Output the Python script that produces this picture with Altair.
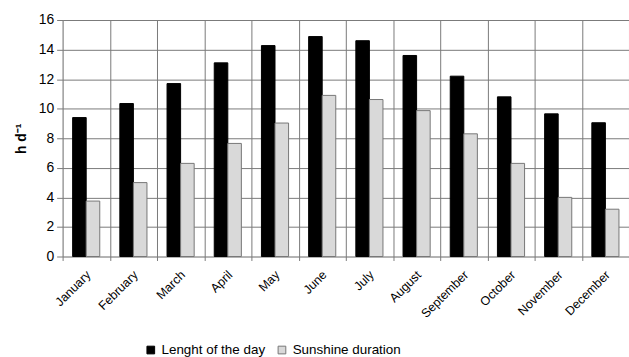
import altair as alt
import pandas as pd

months = ["January", "February", "March", "April", "May", "June", "July",
          "August", "September", "October", "November", "December"]
day_length = [9.4, 10.35, 11.7, 13.1, 14.27, 14.88, 14.6, 13.6, 12.2, 10.8, 9.65, 9.05]
sunshine = [3.75, 5.0, 6.3, 7.65, 9.03, 10.9, 10.62, 9.87, 8.3, 6.3, 4.0, 3.2]
series = ["Lenght of the day", "Sunshine duration"]

rows = []
for m, a, b in zip(months, day_length, sunshine):
    rows.append({"month": m, "series": series[0], "value": a})
    rows.append({"month": m, "series": series[1], "value": b})
df = pd.DataFrame(rows)

font = "Liberation Sans"

chart = alt.Chart(df).mark_bar(strokeWidth=1).encode(
    x=alt.X("month:N", sort=months, title=None,
            scale=alt.Scale(paddingInner=0, paddingOuter=0),
            axis=alt.Axis(labelAngle=-45, labelFontSize=12.5, labelFont=font,
                          labelColor="#000", tickBand="extent", grid=True,
                          gridColor="#7a7a7a", tickColor="#7a7a7a", tickSize=4,
                          domain=False, labelAlign="right", labelBaseline="middle",
                          labelPadding=12, labelOffset=2)),
    xOffset=alt.XOffset("series:N", sort=series,
                        scale=alt.Scale(paddingInner=0, paddingOuter=0.74)),
    y=alt.Y("value:Q", title="h d⁻¹",
            scale=alt.Scale(domain=[0, 16]),
            axis=alt.Axis(values=list(range(0, 17, 2)), labelFontSize=14,
                          labelFont=font, labelColor="#000", titleFont=font,
                          titleFontSize=14, titleFontWeight="bold",
                          titleColor="#000", gridColor="#7a7a7a",
                          tickColor="#7a7a7a", tickSize=6, domain=False,
                          labelPadding=3, titlePadding=10)),
    color=alt.Color("series:N", sort=series,
                    scale=alt.Scale(domain=series, range=["#000000", "#d9d9d9"]),
                    legend=alt.Legend(title=None, orient="none", direction="horizontal",
                                      legendX=82, legendY=325, symbolType="square",
                                      symbolSize=60, labelFontSize=13.5, labelFont=font,
                                      labelColor="#000", columnPadding=10,
                                      symbolStrokeColor="#555", symbolStrokeWidth=1)),
    stroke=alt.Stroke("series:N", sort=series,
                      scale=alt.Scale(domain=series, range=["#000000", "#777777"]),
                      legend=None),
).properties(
    width=570, height=238,
    padding={"left": 63, "top": 19, "right": 0, "bottom": 100},
    autosize=alt.AutoSizeParams(type="none"),
).configure_view(stroke=None).configure(background="white")

chart.save("out.html", embed_options={"renderer": "svg", "actions": False})
